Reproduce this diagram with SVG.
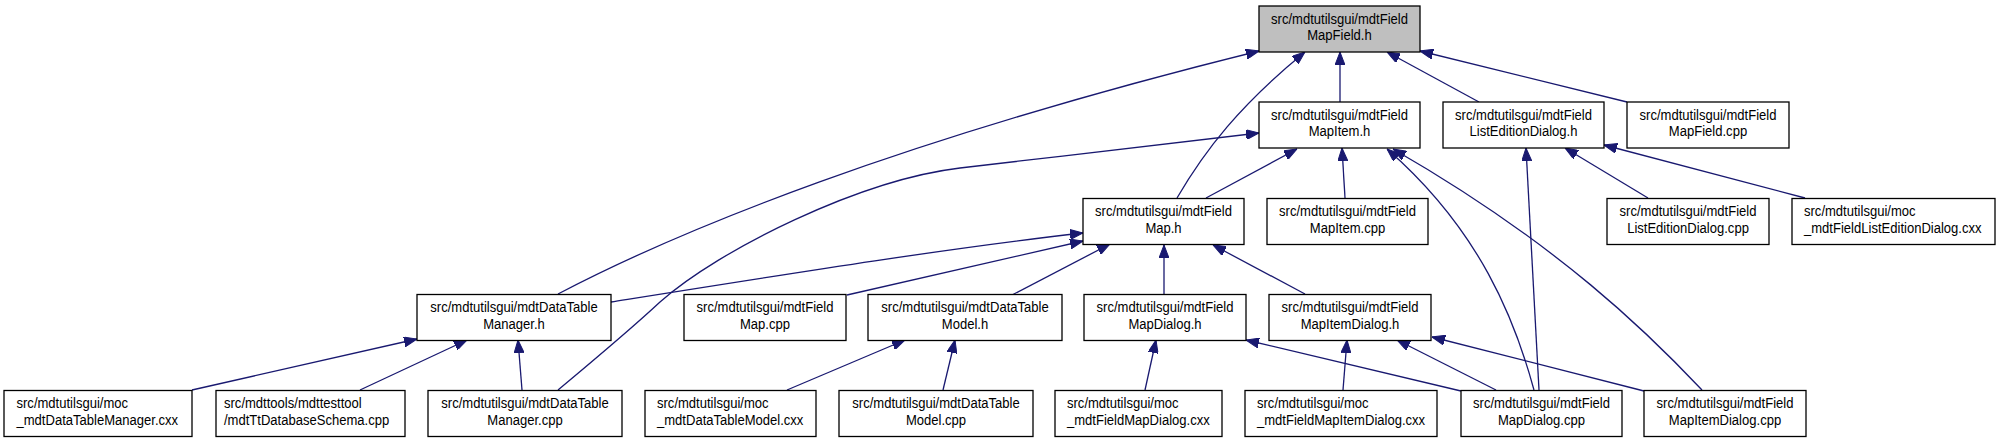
<svg xmlns="http://www.w3.org/2000/svg" width="2000" height="443" viewBox="0 0 2000 443">
<style>
.bg{fill:#fff}
.n rect{fill:#fff;stroke:#000;stroke-width:1.3}
.n.root rect{fill:#bfbfbf}
.n text{font-family:"Liberation Sans",Arial,sans-serif;font-size:14.5px;fill:#000}
.c text-anchor{}
.m{text-anchor:middle}
.l{text-anchor:start}
#edges path{fill:none;stroke:#191970;stroke-width:1.3;marker-end:url(#ah)}
</style>
<defs>
<marker id="ah" markerUnits="userSpaceOnUse" viewBox="0 0 13 10" refX="13" refY="5" markerWidth="13" markerHeight="10" orient="auto">
<path d="M0,0 L13,5 L0,10 z" fill="#191970" stroke="#191970" stroke-width="1"/>
</marker>
</defs>
<rect class="bg" x="0" y="0" width="2000" height="443"/>
<g id="edges">
<path d="M558,294 C680,230 900,140 1259,51"/>
<path d="M1177,198 C1205,150 1240,105 1305,52"/>
<path d="M1340,102 L1340,52"/>
<path d="M1479,102 L1387,52"/>
<path d="M1627,102 L1420,51"/>
<path d="M558,390 C600,355 630,330 660,302 C720,249 860,180 960,168 C1060,156 1180,143 1259,133"/>
<path d="M611,302 C800,272 950,248 1083,233"/>
<path d="M847,295 L1083,241"/>
<path d="M1012,295 L1110,244"/>
<path d="M1164,294 L1164,245"/>
<path d="M1305,294 L1213,245"/>
<path d="M1206,198 L1297,149"/>
<path d="M1345,198 L1342,148"/>
<path d="M1534,390 C1515,320 1480,230 1387,149"/>
<path d="M1702,390 C1650,335 1560,245 1393,149"/>
<path d="M1539,390 L1526,148"/>
<path d="M1648,198 L1565,148"/>
<path d="M1805,198 L1604,145"/>
<path d="M192,390 L417,339"/>
<path d="M360,390 L467,340"/>
<path d="M522,390 L518,340"/>
<path d="M787,390 L905,340"/>
<path d="M943,390 L955,340"/>
<path d="M1145,390 L1156,340"/>
<path d="M1461,391 L1246,340"/>
<path d="M1343,390 L1347,340"/>
<path d="M1496,390 L1397,340"/>
<path d="M1644,391 L1432,337"/>
</g>
<g id="n_root" class="n root"><rect x="1259" y="6" width="161" height="46"/><text class="m" transform="translate(1339.5,6) scale(0.9,1)"><tspan x="0" y="18">src/mdtutilsgui/mdtField</tspan><tspan x="0" y="34.5">MapField.h</tspan></text></g>
<g id="n_mapitem_h" class="n"><rect x="1259" y="102" width="161" height="46"/><text class="m" transform="translate(1339.5,102) scale(0.9,1)"><tspan x="0" y="18">src/mdtutilsgui/mdtField</tspan><tspan x="0" y="34.5">MapItem.h</tspan></text></g>
<g id="n_led_h" class="n"><rect x="1443" y="102" width="161" height="46"/><text class="m" transform="translate(1523.5,102) scale(0.9,1)"><tspan x="0" y="18">src/mdtutilsgui/mdtField</tspan><tspan x="0" y="34.5">ListEditionDialog.h</tspan></text></g>
<g id="n_mapfield_cpp" class="n"><rect x="1627" y="102" width="162" height="46"/><text class="m" transform="translate(1708,102) scale(0.9,1)"><tspan x="0" y="18">src/mdtutilsgui/mdtField</tspan><tspan x="0" y="34.5">MapField.cpp</tspan></text></g>
<g id="n_map_h" class="n"><rect x="1083" y="198.5" width="161" height="46"/><text class="m" transform="translate(1163.5,198.5) scale(0.9,1)"><tspan x="0" y="18">src/mdtutilsgui/mdtField</tspan><tspan x="0" y="34.5">Map.h</tspan></text></g>
<g id="n_mapitem_cpp" class="n"><rect x="1267" y="198.5" width="161" height="46"/><text class="m" transform="translate(1347.5,198.5) scale(0.9,1)"><tspan x="0" y="18">src/mdtutilsgui/mdtField</tspan><tspan x="0" y="34.5">MapItem.cpp</tspan></text></g>
<g id="n_led_cpp" class="n"><rect x="1607" y="198.5" width="162" height="46"/><text class="m" transform="translate(1688,198.5) scale(0.9,1)"><tspan x="0" y="18">src/mdtutilsgui/mdtField</tspan><tspan x="0" y="34.5">ListEditionDialog.cpp</tspan></text></g>
<g id="n_moc_led" class="n"><rect x="1792" y="198.5" width="203" height="46"/><text class="l" transform="translate(1804,198.5) scale(0.9,1)"><tspan x="0" y="18">src/mdtutilsgui/moc</tspan><tspan x="0" y="34.5">_mdtFieldListEditionDialog.cxx</tspan></text></g>
<g id="n_dtm_h" class="n"><rect x="417" y="294.5" width="194" height="46"/><text class="m" transform="translate(514,294.5) scale(0.9,1)"><tspan x="0" y="18">src/mdtutilsgui/mdtDataTable</tspan><tspan x="0" y="34.5">Manager.h</tspan></text></g>
<g id="n_map_cpp" class="n"><rect x="684" y="294.5" width="162" height="46"/><text class="m" transform="translate(765,294.5) scale(0.9,1)"><tspan x="0" y="18">src/mdtutilsgui/mdtField</tspan><tspan x="0" y="34.5">Map.cpp</tspan></text></g>
<g id="n_dtmodel_h" class="n"><rect x="868" y="294.5" width="194" height="46"/><text class="m" transform="translate(965,294.5) scale(0.9,1)"><tspan x="0" y="18">src/mdtutilsgui/mdtDataTable</tspan><tspan x="0" y="34.5">Model.h</tspan></text></g>
<g id="n_mapdialog_h" class="n"><rect x="1084" y="294.5" width="162" height="46"/><text class="m" transform="translate(1165,294.5) scale(0.9,1)"><tspan x="0" y="18">src/mdtutilsgui/mdtField</tspan><tspan x="0" y="34.5">MapDialog.h</tspan></text></g>
<g id="n_mapitemdialog_h" class="n"><rect x="1269" y="294.5" width="162" height="46"/><text class="m" transform="translate(1350,294.5) scale(0.9,1)"><tspan x="0" y="18">src/mdtutilsgui/mdtField</tspan><tspan x="0" y="34.5">MapItemDialog.h</tspan></text></g>
<g id="n_moc_dtm" class="n"><rect x="4" y="390.5" width="188" height="46"/><text class="l" transform="translate(16.5,390.5) scale(0.9,1)"><tspan x="0" y="18">src/mdtutilsgui/moc</tspan><tspan x="0" y="34.5">_mdtDataTableManager.cxx</tspan></text></g>
<g id="n_schema" class="n"><rect x="216" y="390.5" width="189" height="46"/><text class="l" transform="translate(224,390.5) scale(0.9,1)"><tspan x="0" y="18">src/mdttools/mdttesttool</tspan><tspan x="0" y="34.5">/mdtTtDatabaseSchema.cpp</tspan></text></g>
<g id="n_dtm_cpp" class="n"><rect x="428" y="390.5" width="194" height="46"/><text class="m" transform="translate(525,390.5) scale(0.9,1)"><tspan x="0" y="18">src/mdtutilsgui/mdtDataTable</tspan><tspan x="0" y="34.5">Manager.cpp</tspan></text></g>
<g id="n_moc_dtmodel" class="n"><rect x="645" y="390.5" width="171" height="46"/><text class="l" transform="translate(657,390.5) scale(0.9,1)"><tspan x="0" y="18">src/mdtutilsgui/moc</tspan><tspan x="0" y="34.5">_mdtDataTableModel.cxx</tspan></text></g>
<g id="n_dtmodel_cpp" class="n"><rect x="839" y="390.5" width="194" height="46"/><text class="m" transform="translate(936,390.5) scale(0.9,1)"><tspan x="0" y="18">src/mdtutilsgui/mdtDataTable</tspan><tspan x="0" y="34.5">Model.cpp</tspan></text></g>
<g id="n_moc_fmd" class="n"><rect x="1055" y="390.5" width="167" height="46"/><text class="l" transform="translate(1067,390.5) scale(0.9,1)"><tspan x="0" y="18">src/mdtutilsgui/moc</tspan><tspan x="0" y="34.5">_mdtFieldMapDialog.cxx</tspan></text></g>
<g id="n_moc_fmid" class="n"><rect x="1245" y="390.5" width="192" height="46"/><text class="l" transform="translate(1257,390.5) scale(0.9,1)"><tspan x="0" y="18">src/mdtutilsgui/moc</tspan><tspan x="0" y="34.5">_mdtFieldMapItemDialog.cxx</tspan></text></g>
<g id="n_mapdialog_cpp" class="n"><rect x="1461" y="390.5" width="161" height="46"/><text class="m" transform="translate(1541.5,390.5) scale(0.9,1)"><tspan x="0" y="18">src/mdtutilsgui/mdtField</tspan><tspan x="0" y="34.5">MapDialog.cpp</tspan></text></g>
<g id="n_mapitemdialog_cpp" class="n"><rect x="1644" y="390.5" width="162" height="46"/><text class="m" transform="translate(1725,390.5) scale(0.9,1)"><tspan x="0" y="18">src/mdtutilsgui/mdtField</tspan><tspan x="0" y="34.5">MapItemDialog.cpp</tspan></text></g>
</svg>
